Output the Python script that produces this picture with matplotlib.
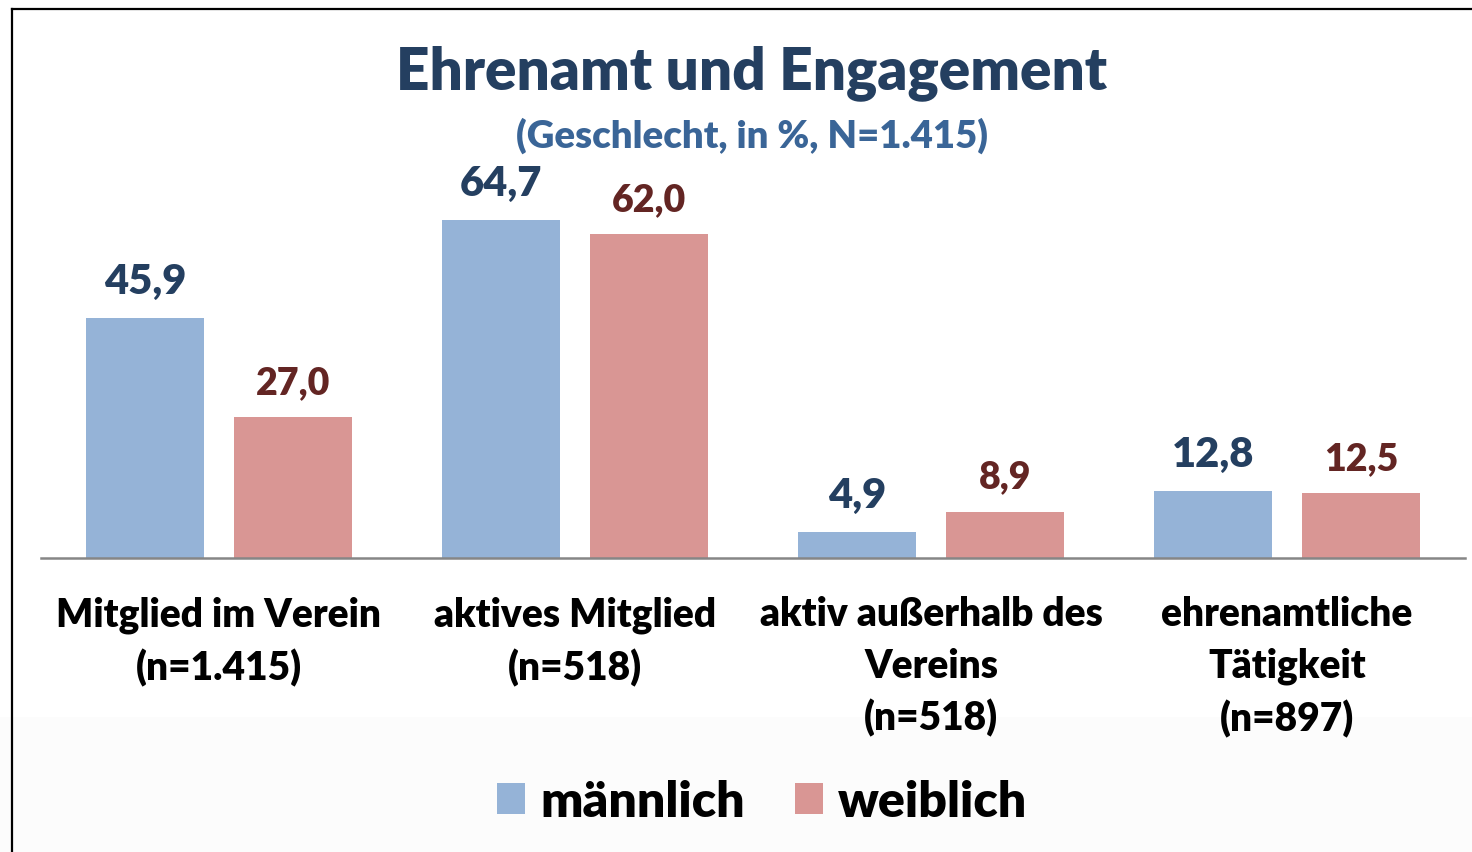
import numpy as np
import matplotlib
matplotlib.use('Agg')
import matplotlib.pyplot as plt
from matplotlib.lines import Line2D
from matplotlib.patches import Rectangle

# Chart data
categories = [
    "Mitglied im Verein\n(n=1.415)",
    "aktives Mitglied\n(n=518)",
    "aktiv außerhalb des\nVereins\n(n=518)",
    "ehrenamtliche\nTätigkeit\n(n=897)",
]
maennlich = [45.9, 64.7, 4.9, 12.8]
weiblich = [27.0, 62.0, 8.9, 12.5]
series_names = ["männlich", "weiblich"]

BLUE = '#95b3d7'
PINK = '#d99694'
BLUE_TXT = '#243f60'
PINK_TXT = '#632523'
WEIGHT = 'heavy'

plt.rcParams['font.family'] = ['Lato', 'DejaVu Sans']

W, H = 1472, 853
fig = plt.figure(figsize=(W / 100, H / 100), dpi=100)

# faint grey band at the bottom, like the original slide background
fig.patches.append(Rectangle((0, 0), 1, (H - 718) / H, transform=fig.transFigure,
                             facecolor='#fcfcfc', edgecolor='none', zorder=-1))
# frame (cut at right and bottom)
fig.add_artist(Line2D([12 / W, 12 / W], [0, 1 - 10 / H], color='black', lw=1.6))
fig.add_artist(Line2D([12 / W, 1], [1 - 10 / H, 1 - 10 / H], color='black', lw=1.6))

base_y = 559
px_per_unit = 5.22
ymax = 70
ax = fig.add_axes([41 / W, (H - base_y) / H, (1465 - 41) / W, ymax * px_per_unit / H])
ax.set_facecolor('none')

x = np.arange(len(categories))
width = 0.332
off = 0.208
b1 = ax.bar(x - off, maennlich, width, color=BLUE, label=series_names[0])
b2 = ax.bar(x + off, weiblich, width, color=PINK, label=series_names[1])

for rect, v in zip(b1, maennlich):
    ax.annotate(f"{v:.1f}".replace('.', ','), (rect.get_x() + rect.get_width() / 2, v),
                xytext=(0, 13), textcoords='offset points', ha='center', va='bottom',
                fontsize=30, fontweight=WEIGHT, color=BLUE_TXT)
for rect, v in zip(b2, weiblich):
    ax.annotate(f"{v:.1f}".replace('.', ','), (rect.get_x() + rect.get_width() / 2, v),
                xytext=(0, 13), textcoords='offset points', ha='center', va='bottom',
                fontsize=27, fontweight=WEIGHT, color=PINK_TXT)

ax.set_xlim(-0.5, len(categories) - 0.5)
ax.set_ylim(0, ymax)
ax.set_yticks([])
ax.set_xticks(x)
ax.set_xticklabels(categories, fontsize=28, fontweight=WEIGHT, color='black', linespacing=1.47)
ax.tick_params(axis='x', length=0, pad=27)
for s in ['top', 'right', 'left']:
    ax.spines[s].set_visible(False)
ax.spines['bottom'].set_color('#868686')
ax.spines['bottom'].set_linewidth(1.8)

fig.text(752 / W, 1 - 73 / H, "Ehrenamt und Engagement", ha='center', va='center',
         fontsize=42, fontweight=WEIGHT, color=BLUE_TXT)
fig.text(752 / W, 1 - 136 / H, "(Geschlecht, in %, N=1.415)", ha='center', va='center',
         fontsize=27.5, fontweight=WEIGHT, color='#3a6597')

leg = fig.legend(handles=[b1, b2], loc='center', bbox_to_anchor=(762 / W, 1 - 803 / H),
                 ncol=2, frameon=False, prop={'size': 36, 'weight': WEIGHT},
                 handlelength=0.57, handleheight=0.57, handletextpad=0.3, columnspacing=1.0)

fig.savefig('out.png', dpi=100)
